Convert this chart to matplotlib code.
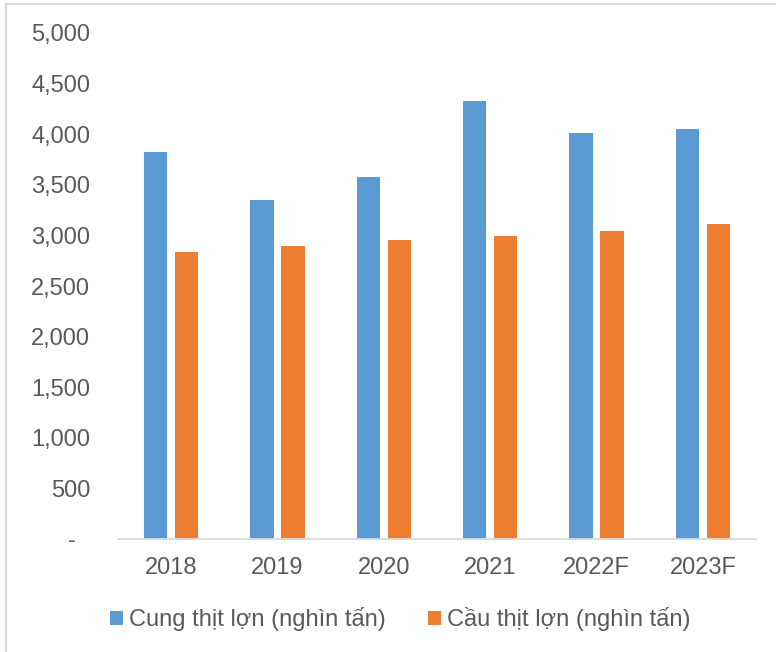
import matplotlib
matplotlib.use("Agg")
import matplotlib.pyplot as plt
import matplotlib.transforms as mtransforms
from matplotlib.patches import Rectangle
import numpy as np

plt.rcParams['font.family'] = ['Liberation Sans', 'DejaVu Sans']

# Supply and demand of pork, thousand tonnes
years = ['2018', '2019', '2020', '2021', '2022F', '2023F']
supply = [3824, 3350, 3574, 4325, 4009, 4048]
demand = [2836, 2895, 2954, 2994, 3043, 3110]
series_names = ['Cung thịt lợn (nghìn tấn)', 'Cầu thịt lợn (nghìn tấn)']
y_ticks = list(range(0, 5001, 500))

blue = '#5B9BD5'
orange = '#ED7D31'
text_col = '#595959'
line_col = '#D9D9D9'
fs = 17

W, H = 776, 652
fig = plt.figure(figsize=(W / 100, H / 100), dpi=100)
ax = fig.add_axes([118 / W, (H - 539) / H, (756 - 118) / W, (539 - 33) / H])

x = np.arange(len(years))
width = 0.22
off = 0.145
b1 = ax.bar(x - off, supply, width, color=blue, label=series_names[0])
b2 = ax.bar(x + off, demand, width, color=orange, label=series_names[1])

ax.set_xlim(-0.5, len(years) - 0.5)
ax.set_ylim(0, 5000)

ax.set_xticks(x)
ax.set_xticklabels(years)
ax.set_yticks(y_ticks)
ax.set_yticklabels(['-' if v == 0 else f'{v:,}' for v in y_ticks])
ax.tick_params(axis='both', length=0, labelsize=fs, labelcolor=text_col)
ax.tick_params(axis='y', pad=20)
ax.tick_params(axis='x', pad=13)

# zero label sits a little left, like an accounting number format
zero_lbl = ax.get_yticklabels()[0]
zero_lbl.set_transform(zero_lbl.get_transform() +
                       mtransforms.ScaledTranslation(-14 / 100, 0, fig.dpi_scale_trans))

for side in ['top', 'right', 'left']:
    ax.spines[side].set_visible(False)
ax.spines['bottom'].set_color(line_col)
ax.spines['bottom'].set_linewidth(1.3)

fig.legend(handles=[b1, b2], loc='center', bbox_to_anchor=(400.5 / W, (H - 619) / H),
           ncol=2, frameon=False, fontsize=fs, labelcolor=text_col,
           handlelength=0.55, handleheight=0.55, handletextpad=0.25,
           columnspacing=1.8, borderpad=0)

# chart area border (top and left visible)
fig.patches.append(Rectangle((6 / W, -0.1), 1.2, (H - 4) / H + 0.1,
                             transform=fig.transFigure, fill=False,
                             edgecolor=line_col, linewidth=1.5))

fig.savefig('out.png', dpi=100)
